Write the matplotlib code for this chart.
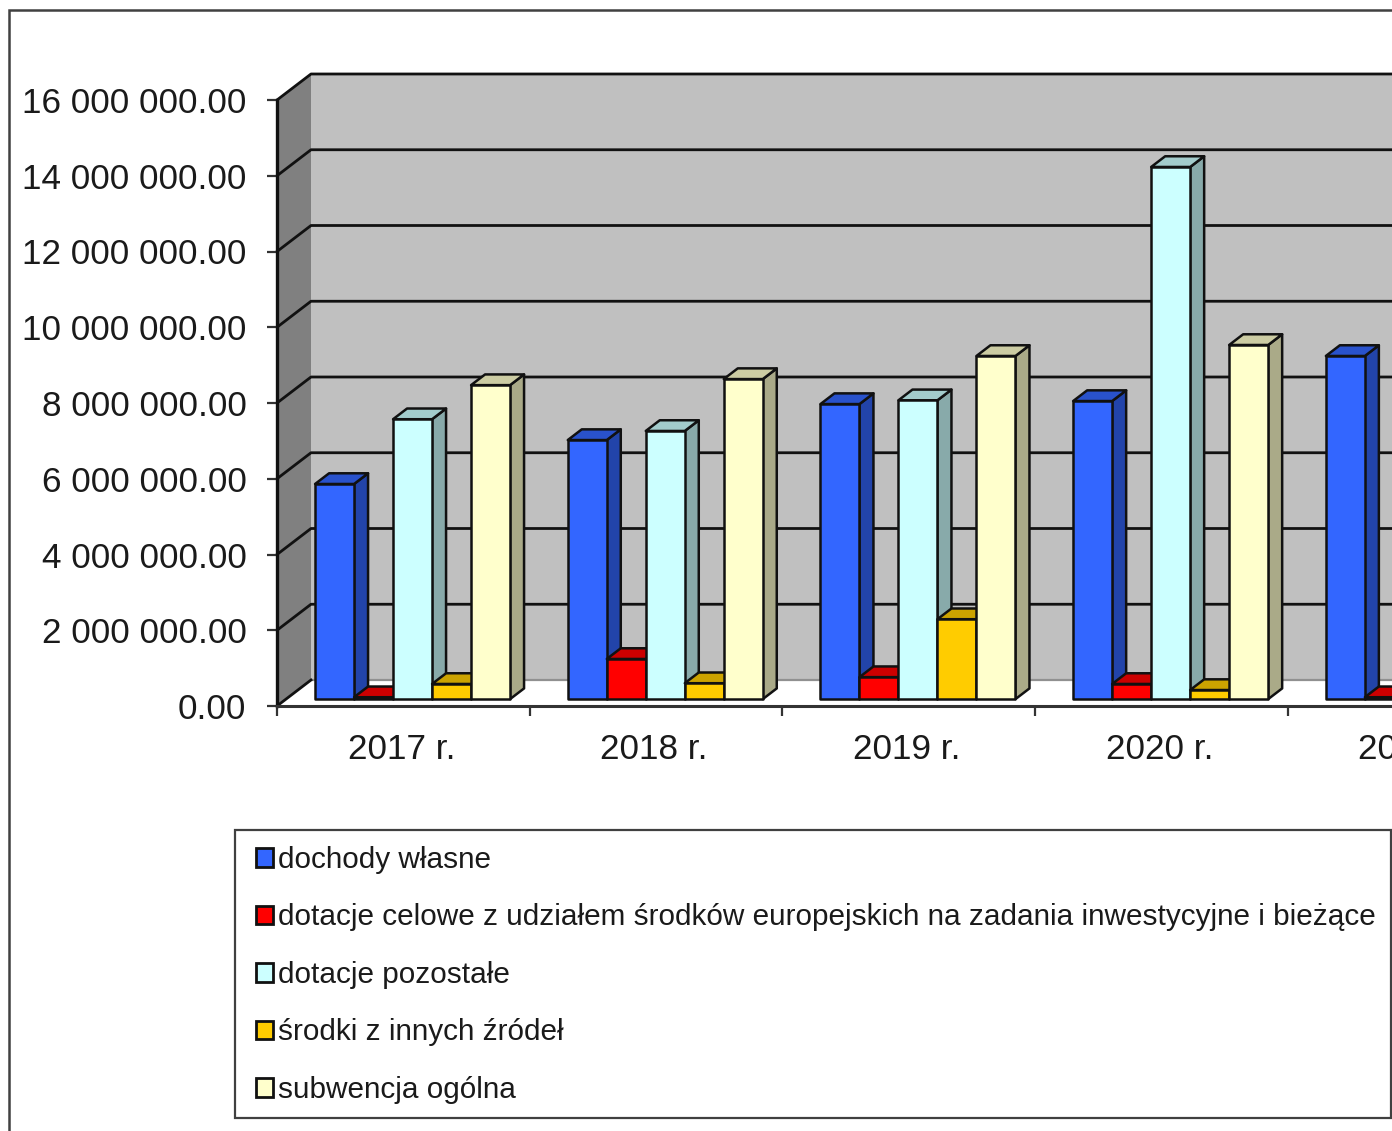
import numpy as np
import matplotlib
matplotlib.use('Agg')
import matplotlib.pyplot as plt
from matplotlib.patches import Polygon, Patch, Rectangle
from matplotlib.ticker import FuncFormatter

plt.rcParams['font.family'] = ['Liberation Sans', 'DejaVu Sans']

years = ['2017 r.', '2018 r.', '2019 r.', '2020 r.', '2021 r.']
# last year is cut off by the picture edge, nan = cannot be seen
dochody = [5.68e6, 6.84e6, 7.79e6, 7.87e6, 9.06e6]
celowe = [0.05e6, 1.06e6, 0.58e6, 0.40e6, 0.05e6]
pozostale = [7.39e6, 7.08e6, 7.89e6, 14.05e6, np.nan]
inne = [0.40e6, 0.42e6, 2.11e6, 0.24e6, np.nan]
subwencja = [8.29e6, 8.45e6, 9.06e6, 9.35e6, np.nan]

series = [dochody, celowe, pozostale, inne, subwencja]
names = ['dochody własne',
         'dotacje celowe z udziałem środków europejskich na zadania inwestycyjne i bieżące',
         'dotacje pozostałe',
         'środki z innych źródeł',
         'subwencja ogólna']
colors = ['#3366FF', '#FF0000', '#CCFFFF', '#FFCC00', '#FFFFCC']
yticks = [0, 2e6, 4e6, 6e6, 8e6, 10e6, 12e6, 14e6, 16e6]

W, H = 1392, 1131
CAT = 252.7  # px per year
RIGHT = 1540  # axes run past the picture, the chart is cropped there
fig = plt.figure(figsize=(W / 100, H / 100), dpi=100)
ax = fig.add_axes([277 / W, 1 - 706 / H, (RIGHT - 277) / W, 606 / H])
xmax = (RIGHT - 277) / CAT
ax.patch.set_visible(False)

# oblique depth, d=0 is the axis plane and d=1 the back wall
DX = 34 / CAT
DY = 26 / 606 * 16e6


def proj(x, y, d):
    return (x + d * DX, y + d * DY)


def shade(c, f):
    rgb = np.array(matplotlib.colors.to_rgb(c)) * f
    return tuple(rgb)


def poly(points, face, lw=1.8, edge='#111111', z=2):
    ax.add_patch(Polygon(points, closed=True, facecolor=face, edgecolor=edge,
                         linewidth=lw, clip_on=False, zorder=z, joinstyle='round'))


# walls and floor
poly([proj(0, 0, 1), proj(xmax, 0, 1), proj(xmax, 16e6, 1), proj(0, 16e6, 1)], '#C0C0C0', lw=0, edge='none', z=1)
poly([proj(0, 0, 0), proj(0, 0, 1), proj(0, 16e6, 1), proj(0, 16e6, 0)], '#808080', lw=0, edge='none', z=1)
poly([proj(0, 0, 0), proj(xmax, 0, 0), proj(xmax, 0, 1), proj(0, 0, 1)], 'white', lw=0, edge='none', z=1)

for t in yticks:
    if t == 0:
        ax.plot(*zip(proj(0, 0, 1), proj(xmax, 0, 1)), color='#909090', lw=1.6, clip_on=False, zorder=1.2)
        ax.plot(*zip(proj(0, 0, 0), proj(0, 0, 1)), color='#111111', lw=2.0, clip_on=False, zorder=1.2)
        continue
    ax.plot(*zip(proj(0, t, 0), proj(0, t, 1), proj(xmax, t, 1)), color='#111111', lw=2.0,
            clip_on=False, zorder=1.2)

# bars, left to right so each one hides the side of the one before
bar_w = 39 / CAT
start = 0.115
d0, d1 = 9 / 34, 23 / 34
for i in range(len(years)):
    for j, vals in enumerate(series):
        v = vals[i]
        if np.isnan(v):
            continue
        x0 = i + start + j * bar_w
        x1 = x0 + bar_w
        c = colors[j]
        poly([proj(x1, 0, d0), proj(x1, 0, d1), proj(x1, v, d1), proj(x1, v, d0)], shade(c, 0.667), z=3)
        poly([proj(x0, v, d0), proj(x1, v, d0), proj(x1, v, d1), proj(x0, v, d1)], shade(c, 0.8), z=3)
        poly([proj(x0, 0, d0), proj(x1, 0, d0), proj(x1, v, d0), proj(x0, v, d0)], c, z=3)

# axes
for s in ['top', 'right']:
    ax.spines[s].set_visible(False)
ax.spines['left'].set_linewidth(2.4)
ax.spines['left'].set_color('#111111')
ax.spines['left'].set_zorder(5)
ax.spines['bottom'].set_linewidth(2.2)
ax.spines['bottom'].set_color('#333333')
ax.spines['bottom'].set_zorder(5)

ax.set_yticks(yticks)
ax.yaxis.set_major_formatter(FuncFormatter(lambda v, p: f'{v:,.2f}'.replace(',', ' ')))
ax.tick_params(axis='y', length=7, width=1.6, color='#333333', labelsize=25.3, pad=15, labelcolor='#1a1a1a')
ax.set_xticks(range(len(years)))
ax.set_xticklabels([])
ax.set_xticks(np.arange(len(years)) + 0.492, years, minor=True)
ax.tick_params(axis='x', which='major', length=7, width=1.6, color='#333333')
ax.tick_params(axis='x', which='minor', length=0, labelsize=25.3, pad=19.5, labelcolor='#1a1a1a')
ax.set_xlim(0, xmax)
ax.set_ylim(0, 16e6)

# outer chart border, runs off the picture on the right and at the bottom
fig.add_artist(Rectangle((9 / W, -0.1), 1.2, 1.1 - 10 / H, transform=fig.transFigure, fill=False,
                         edgecolor='#404040', linewidth=1.8))

# legend box
fig.add_artist(Rectangle((235 / W, 1 - 1118 / H), (1391 - 235) / W, 288 / H, transform=fig.transFigure,
                         facecolor='white', edgecolor='#404040', linewidth=1.6, zorder=6))
handles = [Patch(facecolor=c, edgecolor='#111111', linewidth=2.0) for c in colors]
leg = fig.legend(handles, names, loc='upper left', bbox_to_anchor=(256 / W, 1 - 846 / H),
                 bbox_transform=fig.transFigure, frameon=False, fontsize=21.45, borderpad=0, borderaxespad=0,
                 handlelength=0.56, handleheight=0.56, handletextpad=0.18, labelspacing=0.99,
                 labelcolor='#1a1a1a')
leg.set_zorder(7)

fig.savefig('out.png', dpi=100)
